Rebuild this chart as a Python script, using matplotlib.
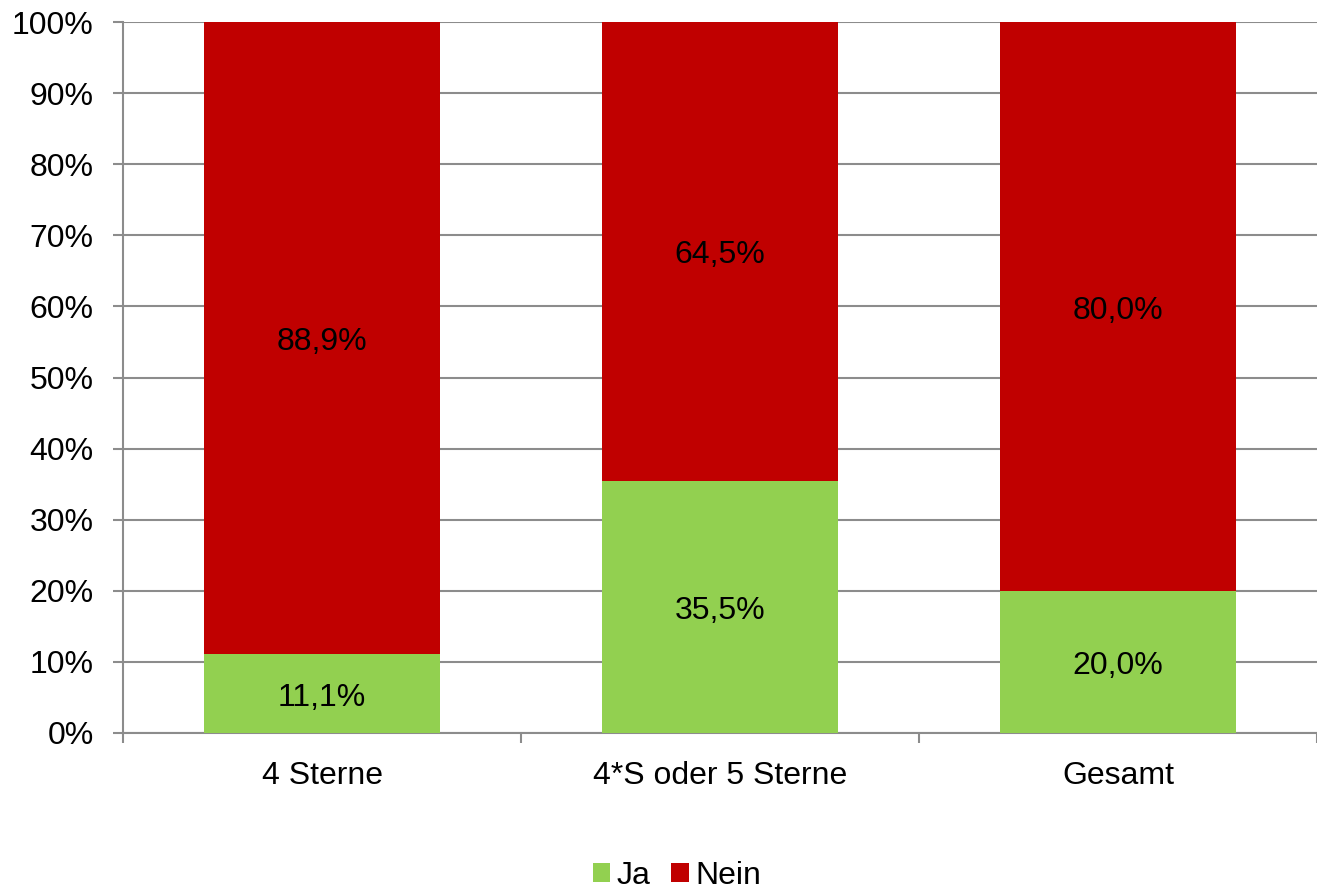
import matplotlib.pyplot as plt
import numpy as np

plt.rcParams['font.family'] = ['Liberation Sans', 'DejaVu Sans']

categories = ['4 Sterne', '4*S oder 5 Sterne', 'Gesamt']
ja = [11.1, 35.5, 20.0]
nein = [88.9, 64.5, 80.0]
yticks = [0, 10, 20, 30, 40, 50, 60, 70, 80, 90, 100]

green = '#92D050'
red = '#C00000'
grid = '#8C8C8C'
fs = 23

fig = plt.figure(figsize=(13.17, 8.94), dpi=100)
ax = fig.add_axes([123 / 1317, 1 - 733 / 894, 1 - 123 / 1317, (733 - 22) / 894])

x = np.arange(len(categories))
width = 0.595
b1 = ax.bar(x, ja, width, color=green, label='Ja', zorder=3)
b2 = ax.bar(x, nein, width, bottom=ja, color=red, label='Nein', zorder=3)

for i in range(len(categories)):
    ax.annotate(f'{ja[i]:.1f}%'.replace('.', ','), (x[i], ja[i] / 2),
                xytext=(0, -3), textcoords='offset points',
                ha='center', va='center', fontsize=fs, zorder=4)
    ax.annotate(f'{nein[i]:.1f}%'.replace('.', ','), (x[i], ja[i] + nein[i] / 2),
                xytext=(0, -3), textcoords='offset points',
                ha='center', va='center', fontsize=fs, zorder=4)

ax.set_xlim(-0.5, len(categories) - 0.5)
ax.set_ylim(0, 100)
ax.set_yticks(yticks)
ax.set_yticklabels([f'{v}%' for v in yticks], fontsize=fs)
ax.yaxis.grid(True, color=grid, linewidth=1.5, zorder=0)

# category labels centered, tick marks at boundaries
ax.set_xticks(x)
ax.set_xticklabels(categories, fontsize=fs)
ax.tick_params(axis='x', length=0, pad=20)
ax.set_xticks(np.arange(len(categories) + 1) - 0.5, minor=True)
ax.tick_params(axis='x', which='minor', length=7, color=grid, width=1.5)
ax.tick_params(axis='y', length=7, color=grid, width=1.5, pad=14)

for s in ['top', 'right']:
    ax.spines[s].set_visible(False)
for s in ['left', 'bottom']:
    ax.spines[s].set_color(grid)
    ax.spines[s].set_linewidth(1.5)

fig.legend(handles=[b1, b2], labels=['Ja', 'Nein'], loc='center',
           bbox_to_anchor=(677 / 1317, 1 - 876 / 894), ncol=2, frameon=False,
           fontsize=fs, handlelength=0.55, handleheight=0.55,
           handletextpad=0.2, columnspacing=0.65, borderpad=0.1)

fig.savefig('out.png', dpi=100)
